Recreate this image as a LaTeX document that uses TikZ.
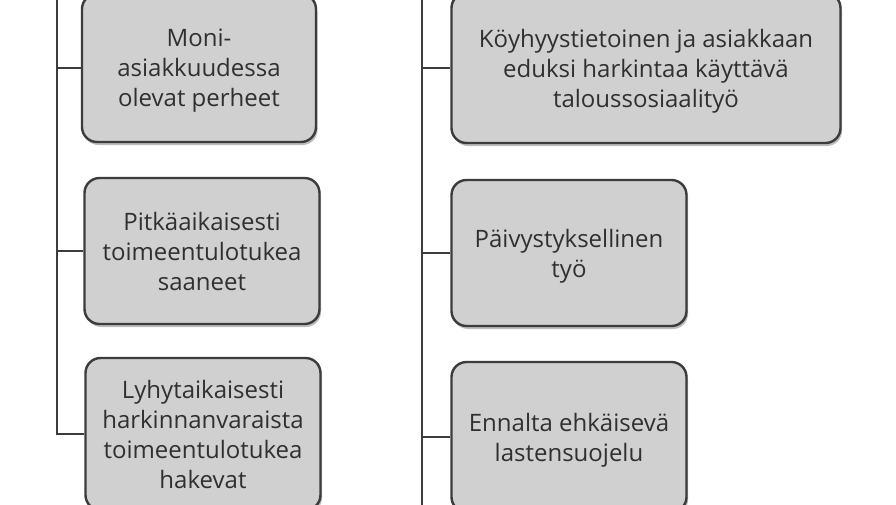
\documentclass[tikz,border=0pt]{standalone}
\usepackage{fontspec}
\setmainfont{Open Sans}
\usetikzlibrary{shadows}
\definecolor{boxfill}{HTML}{D0D0D0}
\definecolor{boxline}{HTML}{3C3C3C}
\definecolor{txt}{HTML}{303030}
\definecolor{shad}{HTML}{BDBDBD}
\begin{document}
\begin{tikzpicture}[x=1pt,y=-1pt,
  card/.style={draw=boxline,line width=2.4pt,fill=boxfill,rounded corners=15pt,
    align=center,text=txt,font=\fontsize{24}{30}\selectfont,inner sep=0pt,
    text depth=0pt,
    drop shadow={shadow xshift=1.5pt,shadow yshift=-3pt,fill=shad,opacity=1}},
  link/.style={draw=boxline,line width=2.4pt}]
\useasboundingbox (0,0) rectangle (896,504);
\clip (0,0) rectangle (896,504);
\fill[white] (0,0) rectangle (896,504);
% left column
\node[card,minimum width=234pt,minimum height=148pt] (l1) at (199,68)
  {Moni-\\asiakkuudessa\\olevat perheet};
\node[card,minimum width=235pt,minimum height=146pt] (l2) at (202,251)
  {Pitkäaikaisesti\\toimeentulotukea\\saaneet};
\node[card,minimum width=235pt,minimum height=152pt] (l3) at (203,434)
  {Lyhytaikaisesti\\harkinnanvaraista\\toimeentulotukea\\hakevat};
% right column
\node[card,minimum width=389pt,minimum height=150pt] (r1) at (646,68)
  {Köyhyystietoinen ja asiakkaan\\eduksi harkintaa käyttävä\\taloussosiaalityö};
\node[card,minimum width=235pt,minimum height=146pt] (r2) at (569,253)
  {Päivystyksellinen\\työ};
\node[card,minimum width=235pt,minimum height=150pt] (r3) at (569,437)
  {Ennalta ehkäisevä\\lastensuojelu};
% trunks
\coordinate (ltop) at (57,-10);
\coordinate (rtop) at (422,-10);
\coordinate (rbot) at (422,520);
\draw[link] (ltop) |- (l3.west);
\draw[link] (57,0 |- l1.west) -- (l1.west);
\draw[link] (57,0 |- l2.west) -- (l2.west);
\draw[link] (rtop) -- (rbot);
\draw[link] (422,0 |- r1.west) -- (r1.west);
\draw[link] (422,0 |- r2.west) -- (r2.west);
\draw[link] (422,0 |- r3.west) -- (r3.west);
\end{tikzpicture}
\end{document}
